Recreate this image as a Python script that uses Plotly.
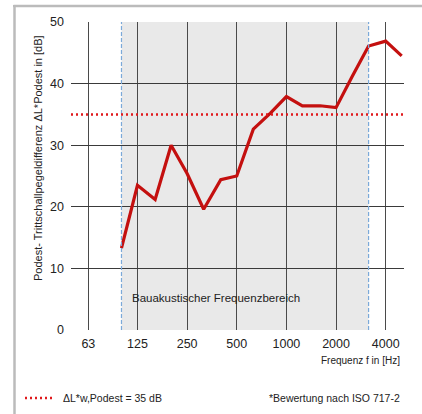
import plotly.graph_objects as go

freqs = [100, 125, 160, 200, 250, 315, 400, 500, 630, 800, 1000, 1250, 1600, 2000, 2500, 3150, 4000, 5000]
values = [13.3, 23.5, 21.2, 30.0, 25.4, 19.6, 24.4, 25.0, 32.6, 35.2, 37.9, 36.4, 36.4, 36.1, 41.1, 46.1, 46.9, 44.5]
tick_vals = [63, 125, 250, 500, 1000, 2000, 4000]
tick_text = ["63", "125", "250", "500", "1000", "2000", "4000"]
y_ticks = [0, 10, 20, 30, 40, 50]
rating = 35
band_lo, band_hi = 100, 3150

W, H = 422, 414
PL, PR, PT, PB = 71, 404, 22, 330  # plot area in pixels


def px(x):
    return x / W


def py(y):
    return (H - y) / H


font = "Liberation Sans, Arial, Helvetica, sans-serif"

fig = go.Figure()
fig.add_trace(go.Scatter(x=freqs, y=values, mode="lines",
                         line=dict(color="#C4100F", width=3.2), hoverinfo="skip"))

shapes = [
    dict(type="rect", xref="x", yref="y", x0=band_lo, x1=band_hi, y0=0, y1=50,
         fillcolor="#E9E9E9", line=dict(width=0), layer="below"),
    dict(type="line", xref="x", yref="y", x0=band_lo, x1=band_lo, y0=0, y1=50,
         line=dict(color="#7BA9D9", width=1.2, dash="4px,2px"), layer="above"),
    dict(type="line", xref="x", yref="y", x0=band_hi, x1=band_hi, y0=0, y1=50,
         line=dict(color="#7BA9D9", width=1.2, dash="4px,2px"), layer="above"),
    dict(type="line", xref="paper", yref="y", x0=px(PL), x1=px(PR), y0=rating, y1=rating,
         line=dict(color="#E0191C", width=2.5, dash="2px,3px"), layer="above"),
    # frame
    dict(type="line", xref="paper", yref="paper", x0=px(13.5), x1=px(422), y0=py(6), y1=py(6),
         line=dict(color="#BBBBBB", width=2.5)),
    dict(type="line", xref="paper", yref="paper", x0=px(14.5), x1=px(14.5), y0=py(5), y1=py(414),
         line=dict(color="#BBBBBB", width=2.5)),
    # legend sample
    dict(type="line", xref="paper", yref="paper", x0=px(25), x1=px(54), y0=py(398), y1=py(398),
         line=dict(color="#E0191C", width=2.5, dash="2px,3px")),
]

annotations = [
    dict(xref="paper", yref="y", x=px(130), y=5.2, xanchor="left", yanchor="middle",
         text="Bauakustischer Frequenzbereich",
         showarrow=False, font=dict(size=11.5, color="#222", family=font)),
    dict(xref="paper", yref="paper", x=px(402), y=py(360), xanchor="right", yanchor="middle",
         text="Frequenz f in [Hz]", showarrow=False, font=dict(size=10, color="#222", family=font)),
    dict(xref="paper", yref="paper", x=px(38), y=py(158), xanchor="center", yanchor="middle",
         textangle=-90, text="Podest- Trittschallpegeldifferenz ΔL*Podest in [dB]",
         showarrow=False, font=dict(size=11, color="#222", family=font)),
    dict(xref="paper", yref="paper", x=px(61), y=py(398), xanchor="left", yanchor="middle",
         text="ΔL*w,Podest = 35 dB", showarrow=False, font=dict(size=10.5, color="#222", family=font)),
    dict(xref="paper", yref="paper", x=px(402), y=py(398), xanchor="right", yanchor="middle",
         text="*Bewertung nach ISO 717-2", showarrow=False, font=dict(size=10.5, color="#222", family=font)),
]

fig.update_layout(
    width=W, height=H,
    margin=dict(l=0, r=0, t=0, b=0, pad=0),
    paper_bgcolor="white", plot_bgcolor="white",
    showlegend=False,
    font=dict(family=font, size=12, color="#222"),
    shapes=shapes, annotations=annotations,
    xaxis=dict(type="log", range=[1.694, 3.713], tickvals=tick_vals, ticktext=tick_text,
               domain=[px(PL), px(PR)], automargin=False,
               showgrid=True, gridcolor="#4A4A4A", gridwidth=1.3, zeroline=False,
               showline=False, ticks="", tickfont=dict(size=12.5, color="#222"),
               ticklabelstandoff=4),
    yaxis=dict(range=[0, 50], tickvals=y_ticks, domain=[py(PB), py(PT)], automargin=False,
               showgrid=True, gridcolor="#3A3A3A",
               gridwidth=1.3, zeroline=False, showline=False, ticks="",
               tickfont=dict(size=12.5, color="#222"), ticklabelstandoff=6),
)

post = (
    "document.body.style.margin='0';document.body.style.overflow='hidden';"
    "var d=document.createElement('div');"
    "d.style.cssText='position:absolute;left:13px;top:5px;width:420px;height:2px;"
    "background:#BBBBBB;z-index:1000;pointer-events:none';"
    "document.body.appendChild(d);"
)
fig.write_html("out.html", config={"displayModeBar": False}, post_script=post)
